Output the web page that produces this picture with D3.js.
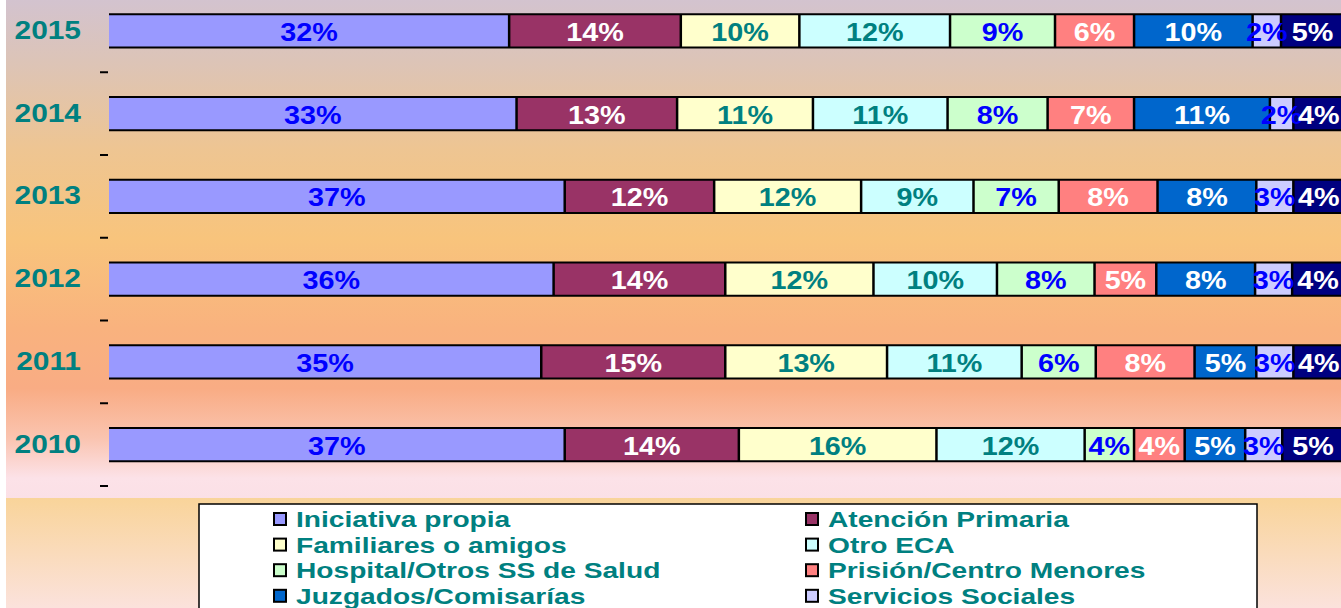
<!DOCTYPE html>
<html>
<head>
<meta charset="utf-8">
<script src="https://cdn.jsdelivr.net/npm/d3@7/dist/d3.min.js"></script>
<style>
  html, body { margin: 0; padding: 0; background: #ffffff; }
  svg { display: block; font-family: "Liberation Sans", Arial, sans-serif; font-weight: bold; }
</style>
</head>
<body>
<div id="chart"></div>
<script>
// --- data (share of referrals by origin, per year) ---
const years = ["2015", "2014", "2013", "2012", "2011", "2010"];
const seriesNames = [
  "Iniciativa propia", "Atención Primaria", "Familiares o amigos", "Otro ECA",
  "Hospital/Otros SS de Salud", "Prisión/Centro Menores", "Juzgados/Comisarías",
  "Servicios Sociales", "Otros"
];
const iniciativa = [32.4, 33.0, 36.9, 36.0, 35.0, 36.9];
const atencion   = [13.9, 13.0, 12.1, 13.9, 14.9, 14.1];
const familiares = [9.6, 11.0, 11.9, 12.0, 13.1, 16.0];
const otroEca    = [12.2, 10.9, 9.1, 10.0, 10.9, 12.0];
const hospital   = [8.5, 8.1, 6.9, 7.9, 6.0, 4.0];
const prision    = [6.4, 7.0, 8.0, 5.0, 8.0, 4.1];
const juzgados   = [9.6, 11.0, 8.0, 8.0, 5.0, 4.9];
const servicios  = [2.3, 1.9, 3.0, 3.0, 3.0, 3.0];
const otros      = [5.1, 4.1, 4.1, 4.2, 4.1, 5.0];
const seriesValues = [iniciativa, atencion, familiares, otroEca, hospital, prision, juzgados, servicios, otros];

// --- colours (fill, label) ---
const fills  = ["#9999ff", "#993366", "#ffffcc", "#ccffff", "#ccffcc", "#ff8080", "#0066cc", "#ccccff", "#000080"];
const labelC = ["#0000ff", "#ffffff", "#008080", "#008080", "#0000ff", "#ffffff", "#ffffff", "#0000ff", "#ffffff"];
const TEAL = "#008080";

const W = 1341, H = 608;

const table = years.map((yr, i) => {
  const row = { year: yr };
  seriesNames.forEach((s, j) => (row[s] = seriesValues[j][i]));
  return row;
});
const stacked = d3.stack().keys(seriesNames)(table);

const x = d3.scaleLinear().domain([0, 100]).range([109, 1344]);
const y = d3.scaleBand().domain(years).range([-10.5, 486]).paddingInner(0.6).paddingOuter(0.3);

const svg = d3.select("#chart").append("svg").attr("width", W).attr("height", H);

// --- background gradients ---
const defs = svg.append("defs");
const g1 = defs.append("linearGradient").attr("id", "bgTop").attr("x1", 0).attr("y1", 0).attr("x2", 0).attr("y2", 1);
[[0, "#d3c3cf"], [0.12, "#dcc4b8"], [0.3, "#eec592"], [0.48, "#f8c47c"], [0.66, "#f9b27e"],
 [0.78, "#f9ac84"], [0.88, "#fac4b0"], [0.96, "#fce2e8"], [1, "#fbe0e6"]]
  .forEach(([o, c]) => g1.append("stop").attr("offset", o).attr("stop-color", c));
const g2 = defs.append("linearGradient").attr("id", "bgBottom").attr("x1", 0).attr("y1", 0).attr("x2", 0).attr("y2", 1);
[[0, "#f9d49a"], [1, "#fbe2dc"]].forEach(([o, c]) => g2.append("stop").attr("offset", o).attr("stop-color", c));

svg.append("rect").attr("x", 6).attr("y", 0).attr("width", W - 6).attr("height", 498).attr("fill", "url(#bgTop)");
svg.append("rect").attr("x", 6).attr("y", 498).attr("width", W - 6).attr("height", H - 498).attr("fill", "url(#bgBottom)");

// --- category labels + ticks between bands ---
const bw = y.bandwidth();
const gap = (y.step() - bw) / 2;
svg.append("g").selectAll("text").data(years).join("text")
  .attr("transform", d => `translate(81,${y(d) + bw / 2 + 8}) scale(1.15,1)`)
  .attr("text-anchor", "end")
  .attr("fill", TEAL)
  .attr("font-size", 26)
  .text(d => d);
svg.append("g").selectAll("line").data(years).join("line")
  .attr("x1", 100).attr("x2", 108)
  .attr("y1", d => y(d) + bw + gap).attr("y2", d => y(d) + bw + gap)
  .attr("stroke", "#000").attr("stroke-width", 2);

// --- stacked segments ---
const layers = svg.append("g").selectAll("g").data(stacked).join("g")
  .attr("fill", (d, i) => fills[i]);
layers.selectAll("rect").data(d => d).join("rect")
  .attr("x", d => x(d[0]))
  .attr("y", d => y(d.data.year))
  .attr("width", d => x(d[1]) - x(d[0]))
  .attr("height", bw);

// borders: top/bottom lines and separators
const borders = svg.append("g").attr("stroke", "#000");
years.forEach(yr => {
  borders.append("line").attr("x1", x(0)).attr("x2", x(100))
    .attr("y1", y(yr)).attr("y2", y(yr)).attr("stroke-width", 2);
  borders.append("line").attr("x1", x(0)).attr("x2", x(100))
    .attr("y1", y(yr) + bw).attr("y2", y(yr) + bw).attr("stroke-width", 2);
});
stacked.slice(0, -1).forEach(layer => {
  borders.selectAll(null).data(layer).join("line")
    .attr("x1", d => x(d[1])).attr("x2", d => x(d[1]))
    .attr("y1", d => y(d.data.year)).attr("y2", d => y(d.data.year) + bw)
    .attr("stroke-width", 2.5);
});

// value labels
const labels = svg.append("g").attr("font-size", 25).attr("text-anchor", "middle");
stacked.forEach((layer, i) => {
  labels.selectAll(null).data(layer).join("text")
    .attr("transform", d => `translate(${(x(d[0]) + x(d[1])) / 2},${y(d.data.year) + bw / 2 + 10}) scale(1.15,1)`)
    .attr("fill", labelC[i])
    .text(d => Math.round(d[1] - d[0]) + "%");
});

// --- legend ---
const legend = svg.append("g");
legend.append("rect").attr("x", 199).attr("y", 504).attr("width", 1058).attr("height", 140)
  .attr("fill", "#fff").attr("stroke", "#000").attr("stroke-width", 1.5);
const colX = [273, 805];
const item = legend.selectAll("g.item").data(seriesNames).join("g")
  .attr("class", "item")
  .attr("transform", (d, i) => `translate(${colX[i % 2]},${519 + Math.floor(i / 2) * 25.6})`);
item.append("rect").attr("x", 1).attr("y", -6).attr("width", 12).attr("height", 12)
  .attr("fill", (d, i) => fills[i]).attr("stroke", "#000").attr("stroke-width", 2);
item.append("text")
  .attr("transform", "translate(23,8) scale(1.28,1)")
  .attr("fill", TEAL).attr("font-size", 22)
  .text(d => d);
</script>
</body>
</html>
